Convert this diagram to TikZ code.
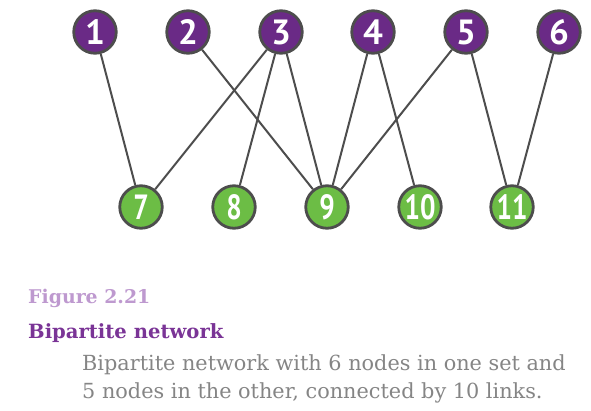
\documentclass[tikz,border=0pt]{standalone}
\usepackage{fontspec}
\setmainfont{DejaVu Serif}
\newfontfamily\numfont{PT Sans}
\definecolor{toppurple}{HTML}{6A2A86}
\definecolor{botgreen}{HTML}{6CBD45}
\definecolor{edgegray}{HTML}{4D4D4D}
\definecolor{figlabel}{HTML}{BE99CF}
\definecolor{titlepurple}{HTML}{7A3496}
\definecolor{captiongray}{HTML}{858585}
\tikzset{
  vtx/.style={circle, draw=edgegray, line width=2.8pt, minimum size=42.5pt, inner sep=0pt,
    text=white, font=\numfont\bfseries\fontsize{35}{35}\selectfont},
  topv/.style={vtx, fill=toppurple},
  botv/.style={vtx, fill=botgreen},
  link/.style={draw=edgegray, line width=2pt},
}
\begin{document}
\begin{tikzpicture}[x=1pt,y=-1pt]
\useasboundingbox (0,0) rectangle (591,410);
\foreach \i/\x in {1/95,2/188,3/281,4/373,5/466,6/559}
  \node[topv] (t\i) at (\x,32) {\i};
\foreach \i/\x in {7/141,8/234,9/327,10/420,11/512}
  \node[botv] (b\i) at (\x,207) {\scalebox{0.78}[1]{\i}};
\foreach \a/\b in {1/7,2/9,3/7,3/8,3/9,4/9,4/10,5/9,5/11,6/11}
  \draw[link] (t\a) -- (b\b);
\node[anchor=base west, text=figlabel, font=\bfseries\fontsize{18.9}{20}\selectfont, inner sep=0pt] (fig) at (28,303) {Figure 2.21};
\node[anchor=base west, text=titlepurple, font=\bfseries\fontsize{19.6}{20}\selectfont, inner sep=0pt] (ttl) at (28,338) {Bipartite network};
\node[anchor=base west, text=captiongray, font=\fontsize{20.8}{26}\selectfont, inner sep=0pt] (cap1) at (82,370) {Bipartite network with 6 nodes in one set and};
\node[anchor=base west, text=captiongray, font=\fontsize{20.8}{26}\selectfont, inner sep=0pt] (cap2) at (82,398) {5 nodes in the other, connected by 10 links.};
\end{tikzpicture}
\end{document}
